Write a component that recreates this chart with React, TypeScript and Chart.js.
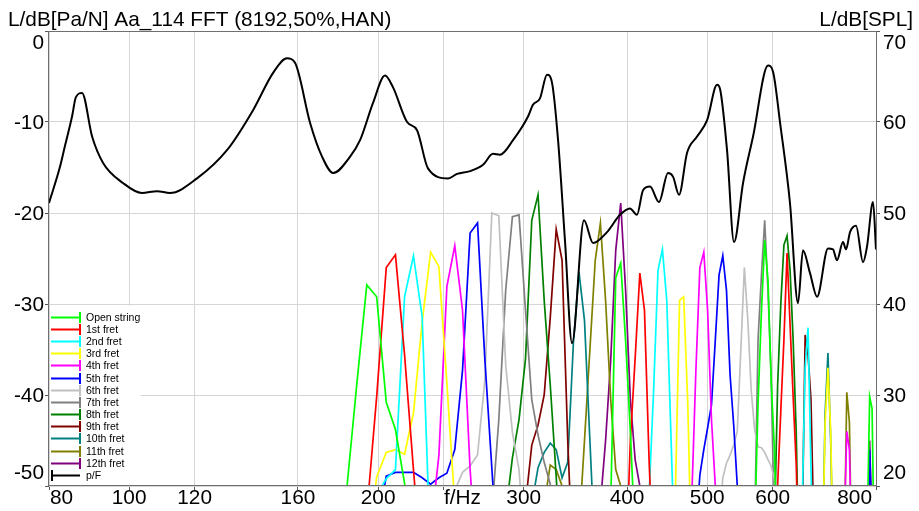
import React, { useEffect, useRef } from 'react';
import { Chart, registerables } from 'chart.js';

Chart.register(...registerables);

const FONT = '"Liberation Sans", Arial, Helvetica, sans-serif';

const leftTitle = 'L/dB[Pa/N] Aa_114 FFT (8192,50%,HAN)';
const rightTitle = 'L/dB[SPL]';

const xGridValues = [80, 100, 120, 160, 200, 240, 300, 400, 500, 600, 800];
const xTickValues = [80, 100, 120, 160, 200, 300, 400, 500, 600, 800];
const xTickLabels = ['80', '100', '120', '160', '200', '300', '400', '500', '600', '800'];
const xUnitLabel = 'f/Hz';
const xUnitAt = 253;
const leftTickValues = [0, -10, -20, -30, -40, -50];
const rightTickValues = [70, 60, 50, 40, 30, 20];

// p/F transfer function (left axis, dB[Pa/N])
const pF = [
  [80, -18.9], [82.5, -14.9], [83.6, -12.7], [85.3, -9.4], [86.2, -7.3], [87.7, -6.8], [90.2, -11.6],
  [93.0, -14.5], [98.3, -16.7], [103.6, -17.8], [108.1, -17.6], [112.0, -17.8], [120.8, -16.2],
  [131.3, -13.1], [141.2, -8.7], [149.3, -4.6], [155.2, -3.0], [158.7, -3.5], [165.5, -10.1],
  [171.1, -13.8], [176.5, -15.6], [185.0, -13.8], [190.2, -12.0], [197.2, -7.9], [203.9, -4.9],
  [208.5, -6.2], [216.8, -10.0], [222.9, -10.9], [229.8, -15.1], [243.0, -16.2], [249.2, -15.7],
  [258.3, -15.4], [267.9, -14.7], [275.4, -13.5], [280.8, -13.6], [291.2, -12.0], [303.6, -9.4],
  [307.8, -8.1], [313.9, -7.4], [320.1, -4.8], [324.6, -5.7], [330.1, -12.0], [336.5, -23.0],
  [343.2, -34.3], [354.8, -20.8], [363.9, -23.3], [378.3, -22.1], [392.2, -20.2], [403.3, -19.5],
  [411.2, -20.2], [418.2, -17.5], [426.4, -17.1], [437.2, -18.8], [448.3, -15.6], [454.6, -16.0],
  [462.3, -18.0], [472.7, -13.4], [486.1, -11.6], [499.9, -9.8], [513.9, -5.9], [518.3, -6.4],
  [528.4, -13.1], [538.8, -23.2], [552.5, -16.7], [568.1, -11.6], [592.3, -3.8], [600.7, -4.5],
  [612.5, -10.1], [629.6, -18.9], [643.9, -29.9], [652.8, -24.1], [665.7, -26.6], [678.9, -29.2],
  [700.0, -23.9], [709.7, -24.0], [717.6, -25.2], [729.8, -23.2], [735.9, -24.0], [744.2, -22.1],
  [756.7, -21.4], [771.6, -25.4], [780.2, -23.7], [793.4, -18.8], [800, -24.0],
];

// Note spectra (right axis, dB[SPL]) - FFT bin points
const openString = [
  [183.0, 19], [188.4, 31], [193.8, 42.1], [199.2, 40.8], [204.6, 29.2], [209.9, 26.2], [215.3, 20.3], [220.7, 12],
  [382.2, 18], [387.6, 42.9], [393.0, 44.5], [398.4, 36], [403.7, 26], [409.1, 14],
  [570.6, 15], [576.0, 29], [581.4, 39], [586.8, 47], [592.2, 42.6], [597.5, 31.6], [602.9, 24], [608.3, 10],
  [780.6, 15], [786.0, 29.8], [791.3, 28.5], [796.7, 10],
];
const fret1 = [
  [193.8, 17], [199.2, 29.8], [204.6, 44], [209.9, 45.4], [215.3, 34.4], [220.7, 21.8], [226.1, 10],
  [398.4, 10], [403.7, 25], [409.1, 34], [414.5, 43.4], [419.9, 39.3], [425.3, 22.9], [430.7, 10],
  [602.9, 10], [608.3, 20], [613.7, 28.2], [619.1, 36.1], [624.5, 45.6], [629.8, 37.7], [635.2, 29.8], [640.6, 22.4], [646.0, 10],
];
const fret2 = [
  [199.2, 19], [204.6, 20.8], [209.9, 21.8], [215.3, 40.8], [220.7, 45.3], [226.1, 38.6], [231.5, 12],
  [425.3, 19], [430.7, 30.5], [436.0, 43.7], [441.4, 46], [446.8, 40.4], [452.2, 25], [457.6, 10],
  [651.4, 18], [656.8, 33], [662.1, 37.4], [667.5, 22], [672.9, 10],
];
const fret3 = [
  [193.8, 12], [199.2, 21], [204.6, 23.7], [209.9, 24], [215.3, 23.5], [220.7, 28], [226.1, 38], [231.5, 45.7],
  [236.9, 44.1], [242.2, 31.3], [247.6, 18], [253.0, 10],
  [452.2, 10], [457.6, 19], [463.0, 40.4], [468.3, 40.8], [473.7, 29], [479.1, 10],
  [689.1, 12], [694.4, 27], [699.8, 33], [705.2, 26], [710.6, 10],
];
const fret4 = [
  [231.5, 15], [236.9, 23.4], [242.2, 41.9], [247.6, 46.4], [253.0, 39.3], [258.4, 21.8], [263.8, 10],
  [479.1, 19], [484.5, 32.7], [489.9, 44], [495.3, 45.7], [500.6, 39.3], [506.0, 27.3], [511.4, 20], [516.8, 10],
  [732.1, 15], [737.5, 26], [742.9, 24], [748.3, 12],
];
const fret5 = [
  [199.2, 15], [204.6, 21.1], [209.9, 21.5], [215.3, 21.5], [220.7, 21.5], [226.1, 20.9], [231.5, 20.2],
  [236.9, 20.9], [242.2, 21.4], [247.6, 24], [253.0, 32.7], [258.4, 47.8], [263.8, 48.9], [269.2, 34],
  [274.5, 22], [279.9, 10],
  [484.5, 15], [489.9, 21.2], [495.3, 24], [500.6, 26.4], [506.0, 28.9], [511.4, 36], [516.8, 43.2],
  [522.2, 45.3], [527.6, 41.5], [532.9, 32.2], [538.3, 26.7], [543.7, 20], [549.1, 10],
  [780.6, 12], [786.0, 24], [791.3, 15],
];
const fret6 = [
  [247.6, 19.5], [253.0, 21.5], [258.4, 22.2], [263.8, 23.4], [269.2, 31.6], [274.5, 50], [279.9, 49.7],
  [285.3, 33.3], [290.7, 25.9], [296.1, 21.8], [301.5, 12],
  [516.8, 15], [522.2, 20.9], [527.6, 22.5], [532.9, 23.4], [538.3, 24.5], [543.7, 26], [549.1, 35],
  [554.5, 44], [559.9, 38.2], [565.2, 30.5], [570.6, 26.2], [576.0, 24.3], [581.4, 24.2], [586.8, 23.7],
  [592.2, 22.9], [597.5, 22.2], [602.9, 20.7], [608.3, 12],
];
const fret7 = [
  [274.5, 17], [279.9, 27.3], [285.3, 41.5], [290.7, 49.6], [296.1, 49.8], [301.5, 39.3], [306.8, 29.5],
  [312.2, 25.6], [317.6, 22.6], [323.0, 20.2], [328.4, 12],
  [570.6, 15], [576.0, 36], [581.4, 43], [586.8, 49.2], [592.2, 41.5], [597.5, 32], [602.9, 15],
];
const fret8 = [
  [285.3, 17], [290.7, 23.1], [296.1, 27.3], [301.5, 34], [306.8, 49.2], [312.2, 52], [317.6, 40.4],
  [323.0, 31.1], [328.4, 21], [333.8, 10],
  [602.9, 15], [608.3, 31], [613.7, 40], [619.1, 46.5], [624.5, 47.5], [629.8, 43.7], [635.2, 36], [640.6, 26], [646.0, 10],
];
const fret9 = [
  [301.5, 18], [306.8, 24.5], [312.2, 26.7], [317.6, 30], [323.0, 38.5], [328.4, 48.2], [333.8, 44.8],
  [339.1, 25], [344.5, 10],
  [651.4, 15], [656.8, 36.6], [662.1, 34.4], [667.5, 29.5], [672.9, 15],
];
const fret10 = [
  [306.8, 18], [312.2, 22], [317.6, 23.7], [323.0, 24.7], [328.4, 24], [333.8, 20.9], [339.1, 22.6],
  [344.5, 35.7], [349.9, 43.5], [355.3, 38.2], [360.7, 25], [366.1, 12],
  [689.1, 12], [694.4, 28], [699.8, 34.6], [705.2, 25], [710.6, 10],
];
const fret11 = [
  [317.6, 18], [323.0, 22.3], [328.4, 21.8], [333.8, 20], [339.1, 12], [344.5, 10], [349.9, 15],
  [355.3, 25], [360.7, 35], [366.1, 44.8], [371.4, 48.9], [376.8, 40.4], [382.2, 29.5], [387.6, 21.8],
  [393.0, 20], [398.4, 10],
  [732.1, 12], [737.5, 30.3], [742.9, 27], [748.3, 10],
];
const fret12 = [
  [371.4, 18], [376.8, 25], [382.2, 33.8], [387.6, 45.9], [393.0, 51.1], [398.4, 41.5], [403.7, 29.5],
  [409.1, 22.9], [414.5, 20], [419.9, 10],
  [780.6, 12], [786.0, 25], [791.3, 15],
];

const noteNames = ['Open string', '1st fret', '2nd fret', '3rd fret', '4th fret', '5th fret', '6th fret',
  '7th fret', '8th fret', '9th fret', '10th fret', '11th fret', '12th fret'];
const noteColors = ['#00ff00', '#ff0000', '#00ffff', '#ffff00', '#ff00ff', '#0000ff', '#c0c0c0',
  '#808080', '#008000', '#800000', '#008080', '#808000', '#800080'];
const noteData = [openString, fret1, fret2, fret3, fret4, fret5, fret6, fret7, fret8, fret9, fret10, fret11, fret12];

const pfName = 'p/F';
const pfColor = '#000000';

const legendNames = [...noteNames, pfName];
const legendColors = [...noteColors, pfColor];

const toXY = (arr) => arr.map((p) => ({ x: p[0], y: p[1] }));

const decorPlugin = {
  id: 'decor',
  beforeDatasetsDraw(chart) {
    const { ctx, chartArea: ca } = chart;
    ctx.save();
    const rowH = 12.18;
    const n = legendNames.length;
    const lastY = ca.bottom - 11;
    const firstY = lastY - (n - 1) * rowH;
    ctx.fillStyle = '#ffffff';
    ctx.fillRect(ca.left + 1, firstY - 11, 91, ca.bottom - (firstY - 11) - 1);
    ctx.font = `10.5px ${FONT}`;
    ctx.textBaseline = 'middle';
    ctx.textAlign = 'left';
    legendNames.forEach((name, i) => {
      const y = Math.round(firstY + i * rowH) + 0.5;
      const x0 = ca.left + 2;
      const x1 = ca.left + 31;
      ctx.strokeStyle = legendColors[i];
      ctx.lineWidth = 2;
      ctx.beginPath();
      ctx.moveTo(x0, y);
      ctx.lineTo(x1, y);
      ctx.stroke();
      const tx = i === n - 1 ? x0 + 1 : x1;
      ctx.beginPath();
      ctx.moveTo(tx, y - 5.5);
      ctx.lineTo(tx, y + 5.5);
      ctx.stroke();
      ctx.fillStyle = '#000000';
      ctx.fillText(name, ca.left + 37, y + 0.5);
    });
    ctx.restore();
  },
  afterDraw(chart) {
    const { ctx, chartArea: ca, scales } = chart;
    ctx.save();
    ctx.strokeStyle = '#6f6f6f';
    ctx.lineWidth = 1;
    ctx.strokeRect(Math.round(ca.left) - 0.5, Math.round(ca.top) + 0.5,
      Math.round(ca.right - ca.left) + 1, Math.round(ca.bottom - ca.top) - 1);

    ctx.fillStyle = '#000000';
    ctx.font = `20.8px ${FONT}`;
    ctx.textBaseline = 'alphabetic';
    ctx.textAlign = 'left';
    ctx.fillText(leftTitle, 8, 26);
    ctx.textAlign = 'right';
    ctx.fillText(rightTitle, chart.width - 6, 26);

    ctx.textBaseline = 'middle';
    const clampY = (y) => Math.min(Math.max(y, ca.top + 11), ca.bottom - 14);
    ctx.textAlign = 'right';
    leftTickValues.forEach((v) => {
      ctx.fillText(String(v), ca.left - 5, clampY(scales.yL.getPixelForValue(v)) + 1);
    });
    ctx.textAlign = 'left';
    rightTickValues.forEach((v) => {
      ctx.fillText(String(v), ca.right + 7, clampY(scales.yR.getPixelForValue(v)) + 1);
    });

    ctx.textAlign = 'center';
    const ly = ca.bottom + 12;
    xTickValues.forEach((v, i) => {
      const label = xTickLabels[i];
      const w = ctx.measureText(label).width;
      let cx = scales.x.getPixelForValue(v);
      cx = Math.min(Math.max(cx, ca.left + 1 + w / 2), ca.right - 4 - w / 2);
      ctx.fillText(label, cx, ly);
    });
    ctx.fillText(xUnitLabel, scales.x.getPixelForValue(xUnitAt), ly);
    ctx.restore();
  },
};

export default function App() {
  const ref = useRef(null);

  useEffect(() => {
    const datasets = [
      {
        label: pfName,
        data: toXY(pF),
        yAxisID: 'yL',
        borderColor: pfColor,
        borderWidth: 2,
        cubicInterpolationMode: 'monotone',
        pointRadius: 0,
        clip: 0,
        order: 0,
      },
      ...noteData.map((d, i) => ({
        label: noteNames[i],
        data: toXY(d),
        yAxisID: 'yR',
        borderColor: noteColors[i],
        borderWidth: 1.7,
        tension: 0,
        pointRadius: 0,
        clip: 0,
        order: 1,
      })),
    ];

    const gridColor = '#d6d6d6';
    const tickColor = '#555555';

    const chart = new Chart(ref.current, {
      type: 'line',
      data: { datasets },
      plugins: [decorPlugin],
      options: {
        animation: false,
        responsive: false,
        devicePixelRatio: 1,
        events: [],
        layout: { padding: { top: 31, left: 0, right: 0, bottom: 0 } },
        plugins: {
          legend: { display: false },
          tooltip: { enabled: false },
          title: { display: false },
        },
        scales: {
          x: {
            type: 'logarithmic',
            position: 'bottom',
            min: 80,
            max: 800,
            afterBuildTicks: (axis) => {
              axis.ticks = xGridValues.map((v) => ({ value: v }));
            },
            afterFit: (axis) => {
              axis.height = 25;
            },
            ticks: { display: false },
            grid: { color: gridColor, lineWidth: 1, drawTicks: true, tickLength: 4, tickColor },
            border: { display: false },
          },
          yL: {
            type: 'linear',
            position: 'left',
            min: -50,
            max: 0,
            ticks: { display: false, stepSize: 10 },
            afterFit: (axis) => {
              axis.width = 49;
            },
            grid: { color: gridColor, lineWidth: 1, drawTicks: true, tickLength: 4, tickColor },
            border: { display: false },
          },
          yR: {
            type: 'linear',
            position: 'right',
            min: 20,
            max: 70,
            ticks: { display: false, stepSize: 10 },
            afterFit: (axis) => {
              axis.width = 43;
            },
            grid: { drawOnChartArea: false, drawTicks: true, tickLength: 4, tickColor, color: gridColor },
            border: { display: false },
          },
        },
      },
    });
    return () => chart.destroy();
  }, []);

  return (
    <div style={{ position: 'fixed', left: 0, top: 0, width: 919, height: 511, background: '#ffffff' }}>
      <canvas ref={ref} width={919} height={511} style={{ display: 'block', width: 919, height: 511 }} />
    </div>
  );
}
